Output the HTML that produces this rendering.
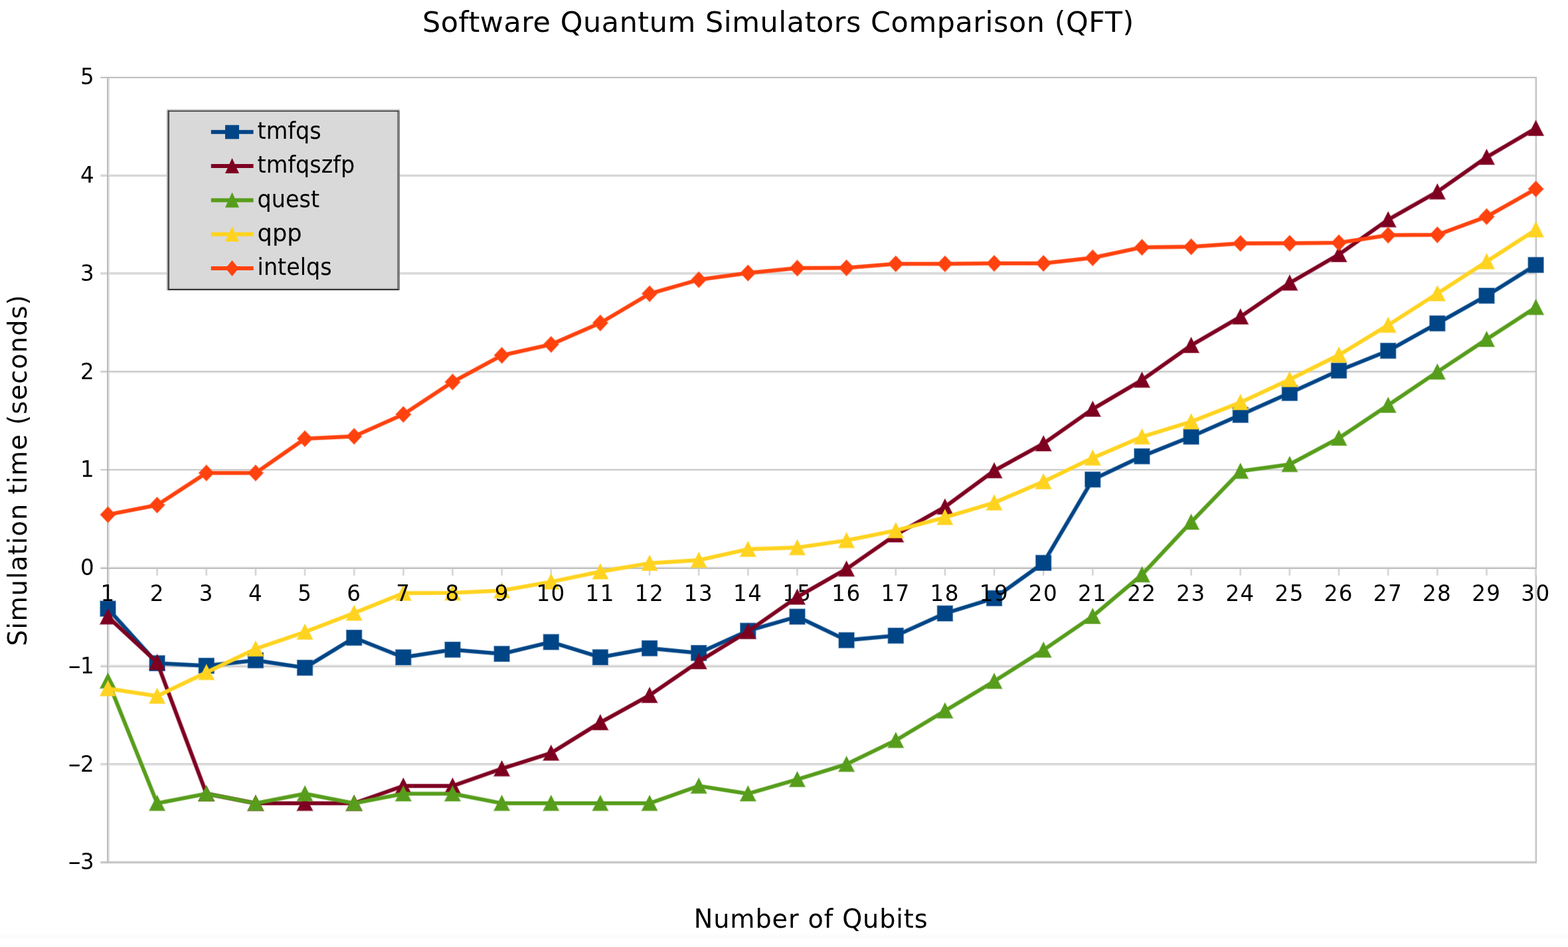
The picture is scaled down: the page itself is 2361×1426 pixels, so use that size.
<!DOCTYPE html>
<html lang="en"><head><meta charset="utf-8">
<title>Software Quantum Simulators Comparison (QFT)</title>
<style>
html,body{margin:0;padding:0;background:#fff;}
body{width:2361px;height:1426px;overflow:hidden;}
svg{display:block;}
text{font-family:'DejaVu Sans', 'Liberation Sans', sans-serif;fill:#000;}
.lab{font-size:34.3px;}
.leg{font-size:35.6px;}
.ttl{font-size:42.9px;}
.axt{font-size:38.2px;}
</style></head><body>
<svg width="2361" height="1426" viewBox="0 0 2361 1426">
<defs>
<linearGradient id="bot" x1="0" y1="0" x2="0" y2="1"><stop offset="0" stop-color="#ffffff"/><stop offset="1" stop-color="#fafafa"/></linearGradient>
</defs>
<rect x="0" y="0" width="2361" height="1426" fill="#ffffff"/>
<rect x="0" y="1403" width="2361" height="10" fill="url(#bot)"/>
<g class="grid">
<rect x="162.9" y="117.6" width="2.3" height="1179.7" fill="#e3e3e3"/>
<rect x="2310.2" y="117.6" width="1.8" height="1179.7" fill="#f2f2f2"/>
<rect x="151.3" y="114.3" width="2162.7" height="1.7" fill="#f5f5f5"/>
<rect x="151.3" y="116" width="2162.7" height="1.6" fill="#b3b3b3"/>
<rect x="151.3" y="262.1" width="2162.7" height="2" fill="#e6e6e6"/>
<rect x="151.3" y="264.1" width="2162.7" height="1.6" fill="#c8c8c8"/>
<rect x="151.3" y="410.1" width="2162.7" height="1.8" fill="#d5d5d5"/>
<rect x="151.3" y="411.8" width="2162.7" height="1.8" fill="#dcdcdc"/>
<rect x="151.3" y="558.5" width="2162.7" height="1.7" fill="#c0c0c0"/>
<rect x="151.3" y="560.2" width="2162.7" height="1.6" fill="#e4e4e4"/>
<rect x="151.3" y="706.5" width="2162.7" height="0.9" fill="#b3b3b3"/>
<rect x="151.3" y="707.4" width="2162.7" height="0.9" fill="#b3b3b3"/>
<rect x="151.3" y="852.6" width="2162.7" height="2.1" fill="#f0f0f0"/>
<rect x="151.3" y="854.7" width="2162.7" height="1.9" fill="#b3b3b3"/>
<rect x="151.3" y="1000.8" width="2162.7" height="2.1" fill="#e4e4e4"/>
<rect x="151.3" y="1002.9" width="2162.7" height="1.9" fill="#cccccc"/>
<rect x="151.3" y="1149.2" width="2162.7" height="1.8" fill="#d2d2d2"/>
<rect x="151.3" y="1151" width="2162.7" height="1.8" fill="#e2e2e2"/>
<rect x="151.3" y="1297.3" width="2162.7" height="1.6" fill="#b3b3b3"/>
<rect x="151.3" y="1298.9" width="2162.7" height="1.8" fill="#d9d9d9"/>
<rect x="161.1" y="116" width="1.8" height="1182.9" fill="#b4b4b4"/>
<rect x="2312" y="116" width="1.95" height="1182.9" fill="#c0c0c0"/>
<rect x="235.3" y="856.6" width="2.7" height="10.1" fill="#d6d6d6"/>
<rect x="309.4" y="856.6" width="2.7" height="10.1" fill="#d6d6d6"/>
<rect x="383.6" y="856.6" width="2.7" height="10.1" fill="#d6d6d6"/>
<rect x="457.7" y="856.6" width="2.7" height="10.1" fill="#d6d6d6"/>
<rect x="531.9" y="856.6" width="2.7" height="10.1" fill="#d6d6d6"/>
<rect x="606" y="856.6" width="2.7" height="10.1" fill="#d6d6d6"/>
<rect x="680.1" y="856.6" width="2.7" height="10.1" fill="#d6d6d6"/>
<rect x="754.3" y="856.6" width="2.7" height="10.1" fill="#d6d6d6"/>
<rect x="828.4" y="856.6" width="2.7" height="10.1" fill="#d6d6d6"/>
<rect x="902.6" y="856.6" width="2.7" height="10.1" fill="#d6d6d6"/>
<rect x="976.7" y="856.6" width="2.7" height="10.1" fill="#d6d6d6"/>
<rect x="1050.8" y="856.6" width="2.7" height="10.1" fill="#d6d6d6"/>
<rect x="1125" y="856.6" width="2.7" height="10.1" fill="#d6d6d6"/>
<rect x="1199.1" y="856.6" width="2.7" height="10.1" fill="#d6d6d6"/>
<rect x="1273.3" y="856.6" width="2.7" height="10.1" fill="#d6d6d6"/>
<rect x="1347.4" y="856.6" width="2.7" height="10.1" fill="#d6d6d6"/>
<rect x="1421.6" y="856.6" width="2.7" height="10.1" fill="#d6d6d6"/>
<rect x="1495.7" y="856.6" width="2.7" height="10.1" fill="#d6d6d6"/>
<rect x="1569.8" y="856.6" width="2.7" height="10.1" fill="#d6d6d6"/>
<rect x="1644" y="856.6" width="2.7" height="10.1" fill="#d6d6d6"/>
<rect x="1718.1" y="856.6" width="2.7" height="10.1" fill="#d6d6d6"/>
<rect x="1792.3" y="856.6" width="2.7" height="10.1" fill="#d6d6d6"/>
<rect x="1866.4" y="856.6" width="2.7" height="10.1" fill="#d6d6d6"/>
<rect x="1940.5" y="856.6" width="2.7" height="10.1" fill="#d6d6d6"/>
<rect x="2014.7" y="856.6" width="2.7" height="10.1" fill="#d6d6d6"/>
<rect x="2088.8" y="856.6" width="2.7" height="10.1" fill="#d6d6d6"/>
<rect x="2163" y="856.6" width="2.7" height="10.1" fill="#d6d6d6"/>
<rect x="2237.1" y="856.6" width="2.7" height="10.1" fill="#d6d6d6"/>
<rect x="2311.2" y="856.6" width="2.7" height="10.1" fill="#d6d6d6"/>
</g>
<g class="frame">
<g class="legend">
<rect x="253.1" y="166.5" width="346.9" height="269.5" fill="#d9d9d9"/>
<rect x="253.1" y="433.3" width="346.9" height="1.7" fill="#c6c6c6"/>
<rect x="251.1" y="164.4" width="350.8" height="2.1" fill="#c8c8c8"/>
<rect x="251.1" y="166.5" width="2" height="270.6" fill="#a0a0a0"/>
<rect x="598.1" y="166.5" width="3.8" height="270.6" fill="#7a7a7a"/>
<rect x="253.1" y="166.5" width="1.9" height="270.6" fill="#404040"/>
<rect x="253.1" y="166.5" width="346.9" height="1.6" fill="#333333"/>
<rect x="253.1" y="435" width="346.9" height="2.1" fill="#333333"/>
<line x1="317.8" y1="198.8" x2="381.6" y2="198.8" stroke="#004586" stroke-width="6"/>
<rect x="339" y="188.3" width="21" height="21" fill="#004586"/>
<line x1="317.8" y1="250.1" x2="381.6" y2="250.1" stroke="#7e0021" stroke-width="6"/>
<polygon points="349.5,238.1 360,261.1 339,261.1" fill="#7e0021"/>
<line x1="317.8" y1="301.4" x2="381.6" y2="301.4" stroke="#579d1c" stroke-width="6"/>
<polygon points="349.5,289.4 360,312.4 339,312.4" fill="#579d1c"/>
<line x1="317.8" y1="352.7" x2="381.6" y2="352.7" stroke="#ffd320" stroke-width="6"/>
<polygon points="349.5,340.7 360,363.7 339,363.7" fill="#ffd320"/>
<line x1="317.8" y1="404" x2="381.6" y2="404" stroke="#ff420e" stroke-width="6"/>
<polygon points="349.5,392 359.3,404 349.5,416 339.7,404" fill="#ff420e"/>
</g>
</g>
<g class="labels">
<text class="ttl" x="1171.6" y="48.4" text-anchor="middle" textLength="1071.2" lengthAdjust="spacing">Software Quantum Simulators Comparison (QFT)</text>
<text class="lab" transform="translate(141.7,127.1) scale(0.95,1)" text-anchor="end">5</text>
<text class="lab" transform="translate(141.7,275.2) scale(0.95,1)" text-anchor="end">4</text>
<text class="lab" transform="translate(141.7,422.8) scale(0.95,1)" text-anchor="end">3</text>
<text class="lab" transform="translate(141.7,570.6) scale(0.95,1)" text-anchor="end">2</text>
<text class="lab" transform="translate(141.7,718.3) scale(0.95,1)" text-anchor="end">1</text>
<text class="lab" transform="translate(141.7,866.1) scale(0.95,1)" text-anchor="end">0</text>
<text class="lab" y="1014.1"><tspan x="101.7" textLength="20.9" lengthAdjust="spacingAndGlyphs">-</tspan><tspan x="121" textLength="20.7" lengthAdjust="spacingAndGlyphs">1</tspan></text>
<text class="lab" y="1161.5"><tspan x="101.7" textLength="20.9" lengthAdjust="spacingAndGlyphs">-</tspan><tspan x="121" textLength="20.7" lengthAdjust="spacingAndGlyphs">2</tspan></text>
<text class="lab" y="1308.5"><tspan x="101.7" textLength="20.9" lengthAdjust="spacingAndGlyphs">-</tspan><tspan x="121" textLength="20.7" lengthAdjust="spacingAndGlyphs">3</tspan></text>
<text class="axt" x="1220.7" y="1397" text-anchor="middle" textLength="351.8" lengthAdjust="spacing">Number of Qubits</text>
<text class="axt" transform="translate(39.8,708.6) rotate(-90)" text-anchor="middle" textLength="528.5" lengthAdjust="spacing">Simulation time (seconds)</text>
<text class="lab" transform="translate(1200.3,905.1) scale(0.95,1)" text-anchor="middle" letter-spacing="1.5">15</text>
<text class="lab" transform="translate(1645.1,905.1) scale(0.95,1)" text-anchor="middle" letter-spacing="1.5">21</text>
<text class="lab" transform="translate(1719.3,905.1) scale(0.95,1)" text-anchor="middle" letter-spacing="1.5">22</text>
<text class="leg" transform="translate(387.6,209.1) scale(0.94,1)">tmfqs</text>
<text class="leg" transform="translate(387.6,260.4) scale(0.94,1)">tmfqszfp</text>
<text class="leg" transform="translate(387.6,311.7) scale(0.94,1)">quest</text>
<text class="leg" transform="translate(387.6,363) scale(0.99,1)">qpp</text>
<text class="leg" transform="translate(387.6,414.3) scale(0.94,1)">intelqs</text>
</g>
<g class="data">
<g class="series s-tmfqs">
<g opacity="0.5">
<polyline points="162.5,916.6 236.6,998.7 310.8,1002.5 384.9,994.3 459.1,1005.5 533.2,960.3 607.3,989.8 681.5,978.3 755.6,984.6 829.8,966.8 903.9,989.7 978.1,976.2 1052.2,983.3 1126.3,949.8 1200.5,928.6 1274.6,964 1348.8,957.2 1422.9,923.7 1497,900.8 1571.2,847.6 1645.3,722.1 1719.5,687.1 1793.6,657.5 1867.8,624.8 1941.9,591.8 2016,558 2090.2,528.2 2164.3,487 2238.5,445.3 2312.6,399" fill="none" stroke="#004586" stroke-width="6.8" stroke-linejoin="round" stroke-linecap="butt"/>
<rect x="150.2" y="904.3" width="24.6" height="24.6" fill="#004586"/>
<rect x="224.3" y="986.4" width="24.6" height="24.6" fill="#004586"/>
<rect x="298.5" y="990.2" width="24.6" height="24.6" fill="#004586"/>
<rect x="372.6" y="982" width="24.6" height="24.6" fill="#004586"/>
<rect x="446.8" y="993.2" width="24.6" height="24.6" fill="#004586"/>
<rect x="520.9" y="948" width="24.6" height="24.6" fill="#004586"/>
<rect x="595" y="977.5" width="24.6" height="24.6" fill="#004586"/>
<rect x="669.2" y="966" width="24.6" height="24.6" fill="#004586"/>
<rect x="743.3" y="972.3" width="24.6" height="24.6" fill="#004586"/>
<rect x="817.5" y="954.5" width="24.6" height="24.6" fill="#004586"/>
<rect x="891.6" y="977.4" width="24.6" height="24.6" fill="#004586"/>
<rect x="965.8" y="963.9" width="24.6" height="24.6" fill="#004586"/>
<rect x="1039.9" y="971" width="24.6" height="24.6" fill="#004586"/>
<rect x="1114" y="937.5" width="24.6" height="24.6" fill="#004586"/>
<rect x="1188.2" y="916.3" width="24.6" height="24.6" fill="#004586"/>
<rect x="1262.3" y="951.7" width="24.6" height="24.6" fill="#004586"/>
<rect x="1336.5" y="944.9" width="24.6" height="24.6" fill="#004586"/>
<rect x="1410.6" y="911.4" width="24.6" height="24.6" fill="#004586"/>
<rect x="1484.7" y="888.5" width="24.6" height="24.6" fill="#004586"/>
<rect x="1558.9" y="835.3" width="24.6" height="24.6" fill="#004586"/>
<rect x="1633" y="709.8" width="24.6" height="24.6" fill="#004586"/>
<rect x="1707.2" y="674.8" width="24.6" height="24.6" fill="#004586"/>
<rect x="1781.3" y="645.2" width="24.6" height="24.6" fill="#004586"/>
<rect x="1855.5" y="612.5" width="24.6" height="24.6" fill="#004586"/>
<rect x="1929.6" y="579.5" width="24.6" height="24.6" fill="#004586"/>
<rect x="2003.7" y="545.7" width="24.6" height="24.6" fill="#004586"/>
<rect x="2077.9" y="515.9" width="24.6" height="24.6" fill="#004586"/>
<rect x="2152" y="474.7" width="24.6" height="24.6" fill="#004586"/>
<rect x="2226.2" y="433" width="24.6" height="24.6" fill="#004586"/>
<rect x="2300.3" y="386.7" width="24.6" height="24.6" fill="#004586"/>
</g>
<polyline points="162.5,916.6 236.6,998.7 310.8,1002.5 384.9,994.3 459.1,1005.5 533.2,960.3 607.3,989.8 681.5,978.3 755.6,984.6 829.8,966.8 903.9,989.7 978.1,976.2 1052.2,983.3 1126.3,949.8 1200.5,928.6 1274.6,964 1348.8,957.2 1422.9,923.7 1497,900.8 1571.2,847.6 1645.3,722.1 1719.5,687.1 1793.6,657.5 1867.8,624.8 1941.9,591.8 2016,558 2090.2,528.2 2164.3,487 2238.5,445.3 2312.6,399" fill="none" stroke="#004586" stroke-width="5.0" stroke-linejoin="round" stroke-linecap="butt"/>
<rect x="151.1" y="905.2" width="22.8" height="22.8" fill="#004586"/>
<rect x="225.2" y="987.3" width="22.8" height="22.8" fill="#004586"/>
<rect x="299.4" y="991.1" width="22.8" height="22.8" fill="#004586"/>
<rect x="373.5" y="982.9" width="22.8" height="22.8" fill="#004586"/>
<rect x="447.7" y="994.1" width="22.8" height="22.8" fill="#004586"/>
<rect x="521.8" y="948.9" width="22.8" height="22.8" fill="#004586"/>
<rect x="595.9" y="978.4" width="22.8" height="22.8" fill="#004586"/>
<rect x="670.1" y="966.9" width="22.8" height="22.8" fill="#004586"/>
<rect x="744.2" y="973.2" width="22.8" height="22.8" fill="#004586"/>
<rect x="818.4" y="955.4" width="22.8" height="22.8" fill="#004586"/>
<rect x="892.5" y="978.3" width="22.8" height="22.8" fill="#004586"/>
<rect x="966.7" y="964.8" width="22.8" height="22.8" fill="#004586"/>
<rect x="1040.8" y="971.9" width="22.8" height="22.8" fill="#004586"/>
<rect x="1114.9" y="938.4" width="22.8" height="22.8" fill="#004586"/>
<rect x="1189.1" y="917.2" width="22.8" height="22.8" fill="#004586"/>
<rect x="1263.2" y="952.6" width="22.8" height="22.8" fill="#004586"/>
<rect x="1337.4" y="945.8" width="22.8" height="22.8" fill="#004586"/>
<rect x="1411.5" y="912.3" width="22.8" height="22.8" fill="#004586"/>
<rect x="1485.6" y="889.4" width="22.8" height="22.8" fill="#004586"/>
<rect x="1559.8" y="836.2" width="22.8" height="22.8" fill="#004586"/>
<rect x="1633.9" y="710.7" width="22.8" height="22.8" fill="#004586"/>
<rect x="1708.1" y="675.7" width="22.8" height="22.8" fill="#004586"/>
<rect x="1782.2" y="646.1" width="22.8" height="22.8" fill="#004586"/>
<rect x="1856.4" y="613.4" width="22.8" height="22.8" fill="#004586"/>
<rect x="1930.5" y="580.4" width="22.8" height="22.8" fill="#004586"/>
<rect x="2004.6" y="546.6" width="22.8" height="22.8" fill="#004586"/>
<rect x="2078.8" y="516.8" width="22.8" height="22.8" fill="#004586"/>
<rect x="2152.9" y="475.6" width="22.8" height="22.8" fill="#004586"/>
<rect x="2227.1" y="433.9" width="22.8" height="22.8" fill="#004586"/>
<rect x="2301.2" y="387.6" width="22.8" height="22.8" fill="#004586"/>
</g>
<g class="series s-tmfqszfp">
<g opacity="0.5">
<polyline points="162.5,928.8 236.6,997.4 310.8,1195.2 384.9,1209.6 459.1,1209.6 533.2,1209.6 607.3,1183.5 681.5,1183.5 755.6,1157.5 829.8,1133.9 903.9,1088 978.1,1047 1052.2,996.2 1126.3,950.8 1200.5,899 1274.6,856.7 1348.8,805.2 1422.9,763.3 1497,708.7 1571.2,668 1645.3,616 1719.5,572.3 1793.6,520 1867.8,477 1941.9,426.1 2016,383.2 2090.2,330.8 2164.3,288.8 2238.5,236.7 2312.6,193.2" fill="none" stroke="#7e0021" stroke-width="6.8" stroke-linejoin="round" stroke-linecap="butt"/>
<polygon points="162.5,915.5 175.6,940.7 149.4,940.7" fill="#7e0021"/>
<polygon points="236.6,984.1 249.7,1009.3 223.6,1009.3" fill="#7e0021"/>
<polygon points="310.8,1182 323.8,1207.1 297.7,1207.1" fill="#7e0021"/>
<polygon points="384.9,1196.3 398,1221.5 371.9,1221.5" fill="#7e0021"/>
<polygon points="459.1,1196.3 472.1,1221.5 446,1221.5" fill="#7e0021"/>
<polygon points="533.2,1196.3 546.3,1221.5 520.1,1221.5" fill="#7e0021"/>
<polygon points="607.3,1170.3 620.4,1195.4 594.3,1195.4" fill="#7e0021"/>
<polygon points="681.5,1170.3 694.6,1195.4 668.4,1195.4" fill="#7e0021"/>
<polygon points="755.6,1144.3 768.7,1169.4 742.6,1169.4" fill="#7e0021"/>
<polygon points="829.8,1120.7 842.8,1145.8 816.7,1145.8" fill="#7e0021"/>
<polygon points="903.9,1074.7 917,1099.9 890.9,1099.9" fill="#7e0021"/>
<polygon points="978.1,1033.7 991.1,1058.9 965,1058.9" fill="#7e0021"/>
<polygon points="1052.2,982.9 1065.3,1008.1 1039.1,1008.1" fill="#7e0021"/>
<polygon points="1126.3,937.5 1139.4,962.7 1113.3,962.7" fill="#7e0021"/>
<polygon points="1200.5,885.7 1213.5,910.9 1187.4,910.9" fill="#7e0021"/>
<polygon points="1274.6,843.4 1287.7,868.6 1261.6,868.6" fill="#7e0021"/>
<polygon points="1348.8,791.9 1361.8,817.1 1335.7,817.1" fill="#7e0021"/>
<polygon points="1422.9,750 1436,775.2 1409.8,775.2" fill="#7e0021"/>
<polygon points="1497,695.4 1510.1,720.6 1484,720.6" fill="#7e0021"/>
<polygon points="1571.2,654.7 1584.2,679.9 1558.1,679.9" fill="#7e0021"/>
<polygon points="1645.3,602.7 1658.4,627.9 1632.3,627.9" fill="#7e0021"/>
<polygon points="1719.5,559 1732.5,584.2 1706.4,584.2" fill="#7e0021"/>
<polygon points="1793.6,506.7 1806.7,531.9 1780.5,531.9" fill="#7e0021"/>
<polygon points="1867.8,463.7 1880.8,488.9 1854.7,488.9" fill="#7e0021"/>
<polygon points="1941.9,412.8 1955,438 1928.8,438" fill="#7e0021"/>
<polygon points="2016,369.9 2029.1,395.1 2003,395.1" fill="#7e0021"/>
<polygon points="2090.2,317.5 2103.2,342.7 2077.1,342.7" fill="#7e0021"/>
<polygon points="2164.3,275.5 2177.4,300.7 2151.3,300.7" fill="#7e0021"/>
<polygon points="2238.5,223.4 2251.5,248.6 2225.4,248.6" fill="#7e0021"/>
<polygon points="2312.6,179.9 2325.7,205.1 2299.5,205.1" fill="#7e0021"/>
</g>
<polyline points="162.5,928.8 236.6,997.4 310.8,1195.2 384.9,1209.6 459.1,1209.6 533.2,1209.6 607.3,1183.5 681.5,1183.5 755.6,1157.5 829.8,1133.9 903.9,1088 978.1,1047 1052.2,996.2 1126.3,950.8 1200.5,899 1274.6,856.7 1348.8,805.2 1422.9,763.3 1497,708.7 1571.2,668 1645.3,616 1719.5,572.3 1793.6,520 1867.8,477 1941.9,426.1 2016,383.2 2090.2,330.8 2164.3,288.8 2238.5,236.7 2312.6,193.2" fill="none" stroke="#7e0021" stroke-width="5.0" stroke-linejoin="round" stroke-linecap="butt"/>
<polygon points="162.5,916.8 174.1,939.8 150.9,939.8" fill="#7e0021"/>
<polygon points="236.6,985.4 248.2,1008.4 225,1008.4" fill="#7e0021"/>
<polygon points="310.8,1183.2 322.4,1206.2 299.2,1206.2" fill="#7e0021"/>
<polygon points="384.9,1197.6 396.5,1220.6 373.3,1220.6" fill="#7e0021"/>
<polygon points="459.1,1197.6 470.7,1220.6 447.5,1220.6" fill="#7e0021"/>
<polygon points="533.2,1197.6 544.8,1220.6 521.6,1220.6" fill="#7e0021"/>
<polygon points="607.3,1171.5 618.9,1194.5 595.7,1194.5" fill="#7e0021"/>
<polygon points="681.5,1171.5 693.1,1194.5 669.9,1194.5" fill="#7e0021"/>
<polygon points="755.6,1145.5 767.2,1168.5 744,1168.5" fill="#7e0021"/>
<polygon points="829.8,1121.9 841.4,1144.9 818.2,1144.9" fill="#7e0021"/>
<polygon points="903.9,1076 915.5,1099 892.3,1099" fill="#7e0021"/>
<polygon points="978.1,1035 989.7,1058 966.5,1058" fill="#7e0021"/>
<polygon points="1052.2,984.2 1063.8,1007.2 1040.6,1007.2" fill="#7e0021"/>
<polygon points="1126.3,938.8 1137.9,961.8 1114.7,961.8" fill="#7e0021"/>
<polygon points="1200.5,887 1212.1,910 1188.9,910" fill="#7e0021"/>
<polygon points="1274.6,844.7 1286.2,867.7 1263,867.7" fill="#7e0021"/>
<polygon points="1348.8,793.2 1360.4,816.2 1337.2,816.2" fill="#7e0021"/>
<polygon points="1422.9,751.3 1434.5,774.3 1411.3,774.3" fill="#7e0021"/>
<polygon points="1497,696.7 1508.6,719.7 1485.4,719.7" fill="#7e0021"/>
<polygon points="1571.2,656 1582.8,679 1559.6,679" fill="#7e0021"/>
<polygon points="1645.3,604 1656.9,627 1633.7,627" fill="#7e0021"/>
<polygon points="1719.5,560.3 1731.1,583.3 1707.9,583.3" fill="#7e0021"/>
<polygon points="1793.6,508 1805.2,531 1782,531" fill="#7e0021"/>
<polygon points="1867.8,465 1879.4,488 1856.2,488" fill="#7e0021"/>
<polygon points="1941.9,414.1 1953.5,437.1 1930.3,437.1" fill="#7e0021"/>
<polygon points="2016,371.2 2027.6,394.2 2004.4,394.2" fill="#7e0021"/>
<polygon points="2090.2,318.8 2101.8,341.8 2078.6,341.8" fill="#7e0021"/>
<polygon points="2164.3,276.8 2175.9,299.8 2152.7,299.8" fill="#7e0021"/>
<polygon points="2238.5,224.7 2250.1,247.7 2226.9,247.7" fill="#7e0021"/>
<polygon points="2312.6,181.2 2324.2,204.2 2301,204.2" fill="#7e0021"/>
</g>
<g class="series s-quest">
<g opacity="0.5">
<polyline points="162.5,1025.3 236.6,1209.6 310.8,1195.2 384.9,1209.6 459.1,1195.2 533.2,1209.6 607.3,1195.2 681.5,1195.2 755.6,1209.6 829.8,1209.6 903.9,1209.6 978.1,1209.6 1052.2,1183.5 1126.3,1195.2 1200.5,1173.7 1274.6,1150.8 1348.8,1114.8 1422.9,1070.3 1497,1025.8 1571.2,978.8 1645.3,928 1719.5,865.4 1793.6,786.2 1867.8,709.5 1941.9,699.3 2016,659.7 2090.2,610.2 2164.3,560 2238.5,510.9 2312.6,462.8" fill="none" stroke="#579d1c" stroke-width="6.8" stroke-linejoin="round" stroke-linecap="butt"/>
<polygon points="162.5,1012 175.6,1037.2 149.4,1037.2" fill="#579d1c"/>
<polygon points="236.6,1196.3 249.7,1221.5 223.6,1221.5" fill="#579d1c"/>
<polygon points="310.8,1182 323.8,1207.1 297.7,1207.1" fill="#579d1c"/>
<polygon points="384.9,1196.3 398,1221.5 371.9,1221.5" fill="#579d1c"/>
<polygon points="459.1,1182 472.1,1207.1 446,1207.1" fill="#579d1c"/>
<polygon points="533.2,1196.3 546.3,1221.5 520.1,1221.5" fill="#579d1c"/>
<polygon points="607.3,1182 620.4,1207.1 594.3,1207.1" fill="#579d1c"/>
<polygon points="681.5,1182 694.6,1207.1 668.4,1207.1" fill="#579d1c"/>
<polygon points="755.6,1196.3 768.7,1221.5 742.6,1221.5" fill="#579d1c"/>
<polygon points="829.8,1196.3 842.8,1221.5 816.7,1221.5" fill="#579d1c"/>
<polygon points="903.9,1196.3 917,1221.5 890.9,1221.5" fill="#579d1c"/>
<polygon points="978.1,1196.3 991.1,1221.5 965,1221.5" fill="#579d1c"/>
<polygon points="1052.2,1170.3 1065.3,1195.4 1039.1,1195.4" fill="#579d1c"/>
<polygon points="1126.3,1182 1139.4,1207.1 1113.3,1207.1" fill="#579d1c"/>
<polygon points="1200.5,1160.4 1213.5,1185.6 1187.4,1185.6" fill="#579d1c"/>
<polygon points="1274.6,1137.5 1287.7,1162.7 1261.6,1162.7" fill="#579d1c"/>
<polygon points="1348.8,1101.5 1361.8,1126.7 1335.7,1126.7" fill="#579d1c"/>
<polygon points="1422.9,1057 1436,1082.2 1409.8,1082.2" fill="#579d1c"/>
<polygon points="1497,1012.5 1510.1,1037.7 1484,1037.7" fill="#579d1c"/>
<polygon points="1571.2,965.5 1584.2,990.7 1558.1,990.7" fill="#579d1c"/>
<polygon points="1645.3,914.7 1658.4,939.9 1632.3,939.9" fill="#579d1c"/>
<polygon points="1719.5,852.1 1732.5,877.3 1706.4,877.3" fill="#579d1c"/>
<polygon points="1793.6,772.9 1806.7,798.1 1780.5,798.1" fill="#579d1c"/>
<polygon points="1867.8,696.2 1880.8,721.4 1854.7,721.4" fill="#579d1c"/>
<polygon points="1941.9,686 1955,711.2 1928.8,711.2" fill="#579d1c"/>
<polygon points="2016,646.4 2029.1,671.6 2003,671.6" fill="#579d1c"/>
<polygon points="2090.2,596.9 2103.2,622.1 2077.1,622.1" fill="#579d1c"/>
<polygon points="2164.3,546.7 2177.4,571.9 2151.3,571.9" fill="#579d1c"/>
<polygon points="2238.5,497.6 2251.5,522.8 2225.4,522.8" fill="#579d1c"/>
<polygon points="2312.6,449.5 2325.7,474.7 2299.5,474.7" fill="#579d1c"/>
</g>
<polyline points="162.5,1025.3 236.6,1209.6 310.8,1195.2 384.9,1209.6 459.1,1195.2 533.2,1209.6 607.3,1195.2 681.5,1195.2 755.6,1209.6 829.8,1209.6 903.9,1209.6 978.1,1209.6 1052.2,1183.5 1126.3,1195.2 1200.5,1173.7 1274.6,1150.8 1348.8,1114.8 1422.9,1070.3 1497,1025.8 1571.2,978.8 1645.3,928 1719.5,865.4 1793.6,786.2 1867.8,709.5 1941.9,699.3 2016,659.7 2090.2,610.2 2164.3,560 2238.5,510.9 2312.6,462.8" fill="none" stroke="#579d1c" stroke-width="5.0" stroke-linejoin="round" stroke-linecap="butt"/>
<polygon points="162.5,1013.3 174.1,1036.3 150.9,1036.3" fill="#579d1c"/>
<polygon points="236.6,1197.6 248.2,1220.6 225,1220.6" fill="#579d1c"/>
<polygon points="310.8,1183.2 322.4,1206.2 299.2,1206.2" fill="#579d1c"/>
<polygon points="384.9,1197.6 396.5,1220.6 373.3,1220.6" fill="#579d1c"/>
<polygon points="459.1,1183.2 470.7,1206.2 447.5,1206.2" fill="#579d1c"/>
<polygon points="533.2,1197.6 544.8,1220.6 521.6,1220.6" fill="#579d1c"/>
<polygon points="607.3,1183.2 618.9,1206.2 595.7,1206.2" fill="#579d1c"/>
<polygon points="681.5,1183.2 693.1,1206.2 669.9,1206.2" fill="#579d1c"/>
<polygon points="755.6,1197.6 767.2,1220.6 744,1220.6" fill="#579d1c"/>
<polygon points="829.8,1197.6 841.4,1220.6 818.2,1220.6" fill="#579d1c"/>
<polygon points="903.9,1197.6 915.5,1220.6 892.3,1220.6" fill="#579d1c"/>
<polygon points="978.1,1197.6 989.7,1220.6 966.5,1220.6" fill="#579d1c"/>
<polygon points="1052.2,1171.5 1063.8,1194.5 1040.6,1194.5" fill="#579d1c"/>
<polygon points="1126.3,1183.2 1137.9,1206.2 1114.7,1206.2" fill="#579d1c"/>
<polygon points="1200.5,1161.7 1212.1,1184.7 1188.9,1184.7" fill="#579d1c"/>
<polygon points="1274.6,1138.8 1286.2,1161.8 1263,1161.8" fill="#579d1c"/>
<polygon points="1348.8,1102.8 1360.4,1125.8 1337.2,1125.8" fill="#579d1c"/>
<polygon points="1422.9,1058.3 1434.5,1081.3 1411.3,1081.3" fill="#579d1c"/>
<polygon points="1497,1013.8 1508.6,1036.8 1485.4,1036.8" fill="#579d1c"/>
<polygon points="1571.2,966.8 1582.8,989.8 1559.6,989.8" fill="#579d1c"/>
<polygon points="1645.3,916 1656.9,939 1633.7,939" fill="#579d1c"/>
<polygon points="1719.5,853.4 1731.1,876.4 1707.9,876.4" fill="#579d1c"/>
<polygon points="1793.6,774.2 1805.2,797.2 1782,797.2" fill="#579d1c"/>
<polygon points="1867.8,697.5 1879.4,720.5 1856.2,720.5" fill="#579d1c"/>
<polygon points="1941.9,687.3 1953.5,710.3 1930.3,710.3" fill="#579d1c"/>
<polygon points="2016,647.7 2027.6,670.7 2004.4,670.7" fill="#579d1c"/>
<polygon points="2090.2,598.2 2101.8,621.2 2078.6,621.2" fill="#579d1c"/>
<polygon points="2164.3,548 2175.9,571 2152.7,571" fill="#579d1c"/>
<polygon points="2238.5,498.9 2250.1,521.9 2226.9,521.9" fill="#579d1c"/>
<polygon points="2312.6,450.8 2324.2,473.8 2301,473.8" fill="#579d1c"/>
</g>
<g class="series s-qpp">
<g opacity="0.5">
<polyline points="162.5,1036.8 236.6,1048.2 310.8,1012.6 384.9,977 459.1,951.7 533.2,923.2 607.3,893.2 681.5,892.7 755.6,889.3 829.8,876.1 903.9,860.8 978.1,848.1 1052.2,843.5 1126.3,827 1200.5,824.5 1274.6,813.8 1348.8,798.9 1422.9,779.1 1497,757 1571.2,725.2 1645.3,689.6 1719.5,657.8 1793.6,635 1867.8,606 1941.9,571.4 2016,534.6 2090.2,489.5 2164.3,442 2238.5,393.9 2312.6,345.9" fill="none" stroke="#ffd320" stroke-width="6.8" stroke-linejoin="round" stroke-linecap="butt"/>
<polygon points="162.5,1023.5 175.6,1048.7 149.4,1048.7" fill="#ffd320"/>
<polygon points="236.6,1034.9 249.7,1060.1 223.6,1060.1" fill="#ffd320"/>
<polygon points="310.8,999.3 323.8,1024.5 297.7,1024.5" fill="#ffd320"/>
<polygon points="384.9,963.7 398,988.9 371.9,988.9" fill="#ffd320"/>
<polygon points="459.1,938.4 472.1,963.6 446,963.6" fill="#ffd320"/>
<polygon points="533.2,909.9 546.3,935.1 520.1,935.1" fill="#ffd320"/>
<polygon points="607.3,879.9 620.4,905.1 594.3,905.1" fill="#ffd320"/>
<polygon points="681.5,879.4 694.6,904.6 668.4,904.6" fill="#ffd320"/>
<polygon points="755.6,876 768.7,901.2 742.6,901.2" fill="#ffd320"/>
<polygon points="829.8,862.8 842.8,888 816.7,888" fill="#ffd320"/>
<polygon points="903.9,847.5 917,872.7 890.9,872.7" fill="#ffd320"/>
<polygon points="978.1,834.8 991.1,860 965,860" fill="#ffd320"/>
<polygon points="1052.2,830.2 1065.3,855.4 1039.1,855.4" fill="#ffd320"/>
<polygon points="1126.3,813.7 1139.4,838.9 1113.3,838.9" fill="#ffd320"/>
<polygon points="1200.5,811.2 1213.5,836.4 1187.4,836.4" fill="#ffd320"/>
<polygon points="1274.6,800.5 1287.7,825.7 1261.6,825.7" fill="#ffd320"/>
<polygon points="1348.8,785.6 1361.8,810.8 1335.7,810.8" fill="#ffd320"/>
<polygon points="1422.9,765.8 1436,791 1409.8,791" fill="#ffd320"/>
<polygon points="1497,743.7 1510.1,768.9 1484,768.9" fill="#ffd320"/>
<polygon points="1571.2,711.9 1584.2,737.1 1558.1,737.1" fill="#ffd320"/>
<polygon points="1645.3,676.3 1658.4,701.5 1632.3,701.5" fill="#ffd320"/>
<polygon points="1719.5,644.5 1732.5,669.7 1706.4,669.7" fill="#ffd320"/>
<polygon points="1793.6,621.7 1806.7,646.9 1780.5,646.9" fill="#ffd320"/>
<polygon points="1867.8,592.7 1880.8,617.9 1854.7,617.9" fill="#ffd320"/>
<polygon points="1941.9,558.1 1955,583.3 1928.8,583.3" fill="#ffd320"/>
<polygon points="2016,521.3 2029.1,546.5 2003,546.5" fill="#ffd320"/>
<polygon points="2090.2,476.2 2103.2,501.4 2077.1,501.4" fill="#ffd320"/>
<polygon points="2164.3,428.7 2177.4,453.9 2151.3,453.9" fill="#ffd320"/>
<polygon points="2238.5,380.6 2251.5,405.8 2225.4,405.8" fill="#ffd320"/>
<polygon points="2312.6,332.6 2325.7,357.8 2299.5,357.8" fill="#ffd320"/>
</g>
<polyline points="162.5,1036.8 236.6,1048.2 310.8,1012.6 384.9,977 459.1,951.7 533.2,923.2 607.3,893.2 681.5,892.7 755.6,889.3 829.8,876.1 903.9,860.8 978.1,848.1 1052.2,843.5 1126.3,827 1200.5,824.5 1274.6,813.8 1348.8,798.9 1422.9,779.1 1497,757 1571.2,725.2 1645.3,689.6 1719.5,657.8 1793.6,635 1867.8,606 1941.9,571.4 2016,534.6 2090.2,489.5 2164.3,442 2238.5,393.9 2312.6,345.9" fill="none" stroke="#ffd320" stroke-width="5.0" stroke-linejoin="round" stroke-linecap="butt"/>
<polygon points="162.5,1024.8 174.1,1047.8 150.9,1047.8" fill="#ffd320"/>
<polygon points="236.6,1036.2 248.2,1059.2 225,1059.2" fill="#ffd320"/>
<polygon points="310.8,1000.6 322.4,1023.6 299.2,1023.6" fill="#ffd320"/>
<polygon points="384.9,965 396.5,988 373.3,988" fill="#ffd320"/>
<polygon points="459.1,939.7 470.7,962.7 447.5,962.7" fill="#ffd320"/>
<polygon points="533.2,911.2 544.8,934.2 521.6,934.2" fill="#ffd320"/>
<polygon points="607.3,881.2 618.9,904.2 595.7,904.2" fill="#ffd320"/>
<polygon points="681.5,880.7 693.1,903.7 669.9,903.7" fill="#ffd320"/>
<polygon points="755.6,877.3 767.2,900.3 744,900.3" fill="#ffd320"/>
<polygon points="829.8,864.1 841.4,887.1 818.2,887.1" fill="#ffd320"/>
<polygon points="903.9,848.8 915.5,871.8 892.3,871.8" fill="#ffd320"/>
<polygon points="978.1,836.1 989.7,859.1 966.5,859.1" fill="#ffd320"/>
<polygon points="1052.2,831.5 1063.8,854.5 1040.6,854.5" fill="#ffd320"/>
<polygon points="1126.3,815 1137.9,838 1114.7,838" fill="#ffd320"/>
<polygon points="1200.5,812.5 1212.1,835.5 1188.9,835.5" fill="#ffd320"/>
<polygon points="1274.6,801.8 1286.2,824.8 1263,824.8" fill="#ffd320"/>
<polygon points="1348.8,786.9 1360.4,809.9 1337.2,809.9" fill="#ffd320"/>
<polygon points="1422.9,767.1 1434.5,790.1 1411.3,790.1" fill="#ffd320"/>
<polygon points="1497,745 1508.6,768 1485.4,768" fill="#ffd320"/>
<polygon points="1571.2,713.2 1582.8,736.2 1559.6,736.2" fill="#ffd320"/>
<polygon points="1645.3,677.6 1656.9,700.6 1633.7,700.6" fill="#ffd320"/>
<polygon points="1719.5,645.8 1731.1,668.8 1707.9,668.8" fill="#ffd320"/>
<polygon points="1793.6,623 1805.2,646 1782,646" fill="#ffd320"/>
<polygon points="1867.8,594 1879.4,617 1856.2,617" fill="#ffd320"/>
<polygon points="1941.9,559.4 1953.5,582.4 1930.3,582.4" fill="#ffd320"/>
<polygon points="2016,522.6 2027.6,545.6 2004.4,545.6" fill="#ffd320"/>
<polygon points="2090.2,477.5 2101.8,500.5 2078.6,500.5" fill="#ffd320"/>
<polygon points="2164.3,430 2175.9,453 2152.7,453" fill="#ffd320"/>
<polygon points="2238.5,381.9 2250.1,404.9 2226.9,404.9" fill="#ffd320"/>
<polygon points="2312.6,333.9 2324.2,356.9 2301,356.9" fill="#ffd320"/>
</g>
<g class="series s-intelqs">
<g opacity="0.5">
<polyline points="162.5,775 236.6,760.5 310.8,712.2 384.9,712.2 459.1,660.6 533.2,657 607.3,624 681.5,575.2 755.6,535.1 829.8,518.6 903.9,486.3 978.1,442.3 1052.2,421.2 1126.3,411.1 1200.5,403.7 1274.6,403.3 1348.8,397.3 1422.9,397.3 1497,396.6 1571.2,396.6 1645.3,388.2 1719.5,372.4 1793.6,371.6 1867.8,366.5 1941.9,366.3 2016,365.6 2090.2,354.1 2164.3,353.6 2238.5,326.2 2312.6,284.5" fill="none" stroke="#ff420e" stroke-width="6.8" stroke-linejoin="round" stroke-linecap="butt"/>
<polygon points="162.5,761.9 174.9,775 162.5,788.1 150.1,775" fill="#ff420e"/>
<polygon points="236.6,747.4 249.1,760.5 236.6,773.6 224.2,760.5" fill="#ff420e"/>
<polygon points="310.8,699.1 323.2,712.2 310.8,725.3 298.3,712.2" fill="#ff420e"/>
<polygon points="384.9,699.1 397.4,712.2 384.9,725.3 372.5,712.2" fill="#ff420e"/>
<polygon points="459.1,647.5 471.5,660.6 459.1,673.7 446.6,660.6" fill="#ff420e"/>
<polygon points="533.2,643.9 545.6,657 533.2,670.1 520.8,657" fill="#ff420e"/>
<polygon points="607.3,610.9 619.8,624 607.3,637.1 594.9,624" fill="#ff420e"/>
<polygon points="681.5,562.1 693.9,575.2 681.5,588.3 669,575.2" fill="#ff420e"/>
<polygon points="755.6,522 768.1,535.1 755.6,548.2 743.2,535.1" fill="#ff420e"/>
<polygon points="829.8,505.5 842.2,518.6 829.8,531.7 817.3,518.6" fill="#ff420e"/>
<polygon points="903.9,473.2 916.4,486.3 903.9,499.4 891.5,486.3" fill="#ff420e"/>
<polygon points="978.1,429.2 990.5,442.3 978.1,455.4 965.6,442.3" fill="#ff420e"/>
<polygon points="1052.2,408.1 1064.6,421.2 1052.2,434.3 1039.8,421.2" fill="#ff420e"/>
<polygon points="1126.3,398 1138.8,411.1 1126.3,424.2 1113.9,411.1" fill="#ff420e"/>
<polygon points="1200.5,390.6 1212.9,403.7 1200.5,416.8 1188,403.7" fill="#ff420e"/>
<polygon points="1274.6,390.2 1287.1,403.3 1274.6,416.4 1262.2,403.3" fill="#ff420e"/>
<polygon points="1348.8,384.2 1361.2,397.3 1348.8,410.4 1336.3,397.3" fill="#ff420e"/>
<polygon points="1422.9,384.2 1435.3,397.3 1422.9,410.4 1410.5,397.3" fill="#ff420e"/>
<polygon points="1497,383.5 1509.5,396.6 1497,409.7 1484.6,396.6" fill="#ff420e"/>
<polygon points="1571.2,383.5 1583.6,396.6 1571.2,409.7 1558.7,396.6" fill="#ff420e"/>
<polygon points="1645.3,375.1 1657.8,388.2 1645.3,401.3 1632.9,388.2" fill="#ff420e"/>
<polygon points="1719.5,359.3 1731.9,372.4 1719.5,385.5 1707,372.4" fill="#ff420e"/>
<polygon points="1793.6,358.5 1806.1,371.6 1793.6,384.7 1781.2,371.6" fill="#ff420e"/>
<polygon points="1867.8,353.4 1880.2,366.5 1867.8,379.6 1855.3,366.5" fill="#ff420e"/>
<polygon points="1941.9,353.2 1954.3,366.3 1941.9,379.4 1929.5,366.3" fill="#ff420e"/>
<polygon points="2016,352.5 2028.5,365.6 2016,378.7 2003.6,365.6" fill="#ff420e"/>
<polygon points="2090.2,341 2102.6,354.1 2090.2,367.2 2077.7,354.1" fill="#ff420e"/>
<polygon points="2164.3,340.5 2176.8,353.6 2164.3,366.7 2151.9,353.6" fill="#ff420e"/>
<polygon points="2238.5,313.1 2250.9,326.2 2238.5,339.3 2226,326.2" fill="#ff420e"/>
<polygon points="2312.6,271.4 2325,284.5 2312.6,297.6 2300.2,284.5" fill="#ff420e"/>
</g>
<polyline points="162.5,775 236.6,760.5 310.8,712.2 384.9,712.2 459.1,660.6 533.2,657 607.3,624 681.5,575.2 755.6,535.1 829.8,518.6 903.9,486.3 978.1,442.3 1052.2,421.2 1126.3,411.1 1200.5,403.7 1274.6,403.3 1348.8,397.3 1422.9,397.3 1497,396.6 1571.2,396.6 1645.3,388.2 1719.5,372.4 1793.6,371.6 1867.8,366.5 1941.9,366.3 2016,365.6 2090.2,354.1 2164.3,353.6 2238.5,326.2 2312.6,284.5" fill="none" stroke="#ff420e" stroke-width="5.0" stroke-linejoin="round" stroke-linecap="butt"/>
<polygon points="162.5,763.2 173.7,775 162.5,786.8 151.3,775" fill="#ff420e"/>
<polygon points="236.6,748.7 247.8,760.5 236.6,772.3 225.4,760.5" fill="#ff420e"/>
<polygon points="310.8,700.4 322,712.2 310.8,724 299.6,712.2" fill="#ff420e"/>
<polygon points="384.9,700.4 396.1,712.2 384.9,724 373.7,712.2" fill="#ff420e"/>
<polygon points="459.1,648.8 470.3,660.6 459.1,672.4 447.9,660.6" fill="#ff420e"/>
<polygon points="533.2,645.2 544.4,657 533.2,668.8 522,657" fill="#ff420e"/>
<polygon points="607.3,612.2 618.5,624 607.3,635.8 596.1,624" fill="#ff420e"/>
<polygon points="681.5,563.4 692.7,575.2 681.5,587 670.3,575.2" fill="#ff420e"/>
<polygon points="755.6,523.3 766.8,535.1 755.6,546.9 744.4,535.1" fill="#ff420e"/>
<polygon points="829.8,506.8 841,518.6 829.8,530.4 818.6,518.6" fill="#ff420e"/>
<polygon points="903.9,474.5 915.1,486.3 903.9,498.1 892.7,486.3" fill="#ff420e"/>
<polygon points="978.1,430.5 989.3,442.3 978.1,454.1 966.9,442.3" fill="#ff420e"/>
<polygon points="1052.2,409.4 1063.4,421.2 1052.2,433 1041,421.2" fill="#ff420e"/>
<polygon points="1126.3,399.3 1137.5,411.1 1126.3,422.9 1115.1,411.1" fill="#ff420e"/>
<polygon points="1200.5,391.9 1211.7,403.7 1200.5,415.5 1189.3,403.7" fill="#ff420e"/>
<polygon points="1274.6,391.5 1285.8,403.3 1274.6,415.1 1263.4,403.3" fill="#ff420e"/>
<polygon points="1348.8,385.5 1360,397.3 1348.8,409.1 1337.6,397.3" fill="#ff420e"/>
<polygon points="1422.9,385.5 1434.1,397.3 1422.9,409.1 1411.7,397.3" fill="#ff420e"/>
<polygon points="1497,384.8 1508.2,396.6 1497,408.4 1485.8,396.6" fill="#ff420e"/>
<polygon points="1571.2,384.8 1582.4,396.6 1571.2,408.4 1560,396.6" fill="#ff420e"/>
<polygon points="1645.3,376.4 1656.5,388.2 1645.3,400 1634.1,388.2" fill="#ff420e"/>
<polygon points="1719.5,360.6 1730.7,372.4 1719.5,384.2 1708.3,372.4" fill="#ff420e"/>
<polygon points="1793.6,359.8 1804.8,371.6 1793.6,383.4 1782.4,371.6" fill="#ff420e"/>
<polygon points="1867.8,354.7 1879,366.5 1867.8,378.3 1856.6,366.5" fill="#ff420e"/>
<polygon points="1941.9,354.5 1953.1,366.3 1941.9,378.1 1930.7,366.3" fill="#ff420e"/>
<polygon points="2016,353.8 2027.2,365.6 2016,377.4 2004.8,365.6" fill="#ff420e"/>
<polygon points="2090.2,342.3 2101.4,354.1 2090.2,365.9 2079,354.1" fill="#ff420e"/>
<polygon points="2164.3,341.8 2175.5,353.6 2164.3,365.4 2153.1,353.6" fill="#ff420e"/>
<polygon points="2238.5,314.4 2249.7,326.2 2238.5,338 2227.3,326.2" fill="#ff420e"/>
<polygon points="2312.6,272.7 2323.8,284.5 2312.6,296.3 2301.4,284.5" fill="#ff420e"/>
</g>
</g>
<g class="xlabels">
<text class="lab" transform="translate(161.9,905.1) scale(0.95,1)" text-anchor="middle">1</text>
<text class="lab" transform="translate(236,905.1) scale(0.95,1)" text-anchor="middle">2</text>
<text class="lab" transform="translate(310.2,905.1) scale(0.95,1)" text-anchor="middle">3</text>
<text class="lab" transform="translate(384.3,905.1) scale(0.95,1)" text-anchor="middle">4</text>
<text class="lab" transform="translate(458.5,905.1) scale(0.95,1)" text-anchor="middle">5</text>
<text class="lab" transform="translate(532.6,905.1) scale(0.95,1)" text-anchor="middle">6</text>
<text class="lab" transform="translate(606.7,905.1) scale(0.95,1)" text-anchor="middle">7</text>
<text class="lab" transform="translate(680.9,905.1) scale(0.95,1)" text-anchor="middle">8</text>
<text class="lab" transform="translate(755,905.1) scale(0.95,1)" text-anchor="middle">9</text>
<text class="lab" transform="translate(829.6,905.1) scale(0.95,1)" text-anchor="middle" letter-spacing="1.5">10</text>
<text class="lab" transform="translate(903.7,905.1) scale(0.95,1)" text-anchor="middle" letter-spacing="1.5">11</text>
<text class="lab" transform="translate(977.9,905.1) scale(0.95,1)" text-anchor="middle" letter-spacing="1.5">12</text>
<text class="lab" transform="translate(1052,905.1) scale(0.95,1)" text-anchor="middle" letter-spacing="1.5">13</text>
<text class="lab" transform="translate(1126.2,905.1) scale(0.95,1)" text-anchor="middle" letter-spacing="1.5">14</text>
<text class="lab" transform="translate(1274.4,905.1) scale(0.95,1)" text-anchor="middle" letter-spacing="1.5">16</text>
<text class="lab" transform="translate(1348.6,905.1) scale(0.95,1)" text-anchor="middle" letter-spacing="1.5">17</text>
<text class="lab" transform="translate(1422.7,905.1) scale(0.95,1)" text-anchor="middle" letter-spacing="1.5">18</text>
<text class="lab" transform="translate(1496.9,905.1) scale(0.95,1)" text-anchor="middle" letter-spacing="1.5">19</text>
<text class="lab" transform="translate(1571,905.1) scale(0.95,1)" text-anchor="middle" letter-spacing="1.5">20</text>
<text class="lab" transform="translate(1793.4,905.1) scale(0.95,1)" text-anchor="middle" letter-spacing="1.5">23</text>
<text class="lab" transform="translate(1867.6,905.1) scale(0.95,1)" text-anchor="middle" letter-spacing="1.5">24</text>
<text class="lab" transform="translate(1941.7,905.1) scale(0.95,1)" text-anchor="middle" letter-spacing="1.5">25</text>
<text class="lab" transform="translate(2015.8,905.1) scale(0.95,1)" text-anchor="middle" letter-spacing="1.5">26</text>
<text class="lab" transform="translate(2090,905.1) scale(0.95,1)" text-anchor="middle" letter-spacing="1.5">27</text>
<text class="lab" transform="translate(2164.1,905.1) scale(0.95,1)" text-anchor="middle" letter-spacing="1.5">28</text>
<text class="lab" transform="translate(2238.3,905.1) scale(0.95,1)" text-anchor="middle" letter-spacing="1.5">29</text>
<text class="lab" transform="translate(2312.4,905.1) scale(0.95,1)" text-anchor="middle" letter-spacing="1.5">30</text>
</g>
</svg>
</body></html>
